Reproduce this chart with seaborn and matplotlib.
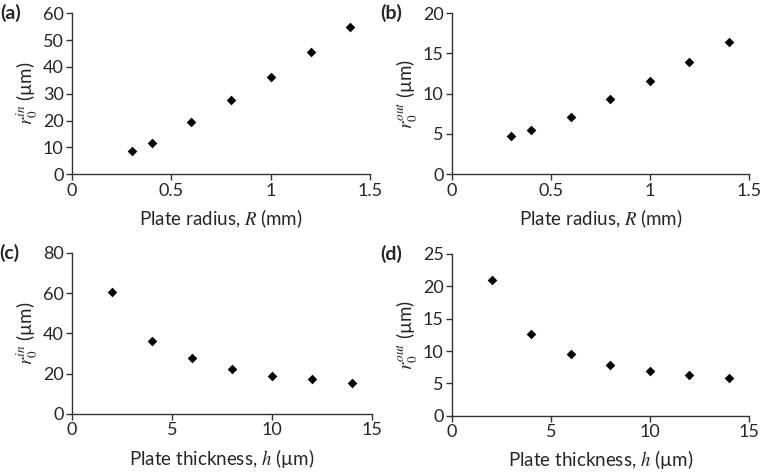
import matplotlib
matplotlib.use("Agg")
import matplotlib.pyplot as plt
import seaborn as sns
import pandas as pd

# Data
radius_mm = [0.3, 0.4, 0.6, 0.8, 1.0, 1.2, 1.4]
r_in_vs_radius = [8.6, 11.8, 19.6, 27.6, 36.4, 45.5, 55.0]
r_out_vs_radius = [4.8, 5.5, 7.1, 9.4, 11.6, 14.0, 16.4]

thickness_um = [2, 4, 6, 8, 10, 12, 14]
r_in_vs_thickness = [60.5, 36.5, 27.6, 22.3, 19.0, 17.2, 15.2]
r_out_vs_thickness = [20.9, 12.7, 9.6, 7.9, 6.9, 6.3, 5.8]

sns.set_style("ticks")
plt.rcParams['font.family'] = ['Lato', 'DejaVu Sans']
plt.rcParams['mathtext.fontset'] = 'stix'

fig = plt.figure(figsize=(7.61, 4.72), dpi=100)

panels = [
    # (tag, rect, x, y, xlim, xticks, ylim, yticks, ylabel, xlabel)
    ("(a)", [0.0946, 0.631, 0.392, 0.341], radius_mm, r_in_vs_radius,
     (0, 1.5), [0, 0.5, 1, 1.5], (0, 60), range(0, 61, 10),
     r"$r_0^{in}$ (µm)", r"Plate radius, $R$ (mm)"),
    ("(b)", [0.594, 0.631, 0.390, 0.341], radius_mm, r_out_vs_radius,
     (0, 1.5), [0, 0.5, 1, 1.5], (0, 20), range(0, 21, 5),
     r"$r_0^{out}$ (µm)", r"Plate radius, $R$ (mm)"),
    ("(c)", [0.0946, 0.123, 0.394, 0.341], thickness_um, r_in_vs_thickness,
     (0, 15), [0, 5, 10, 15], (0, 80), range(0, 81, 20),
     r"$r_0^{in}$ (µm)", r"Plate thickness, $h$ (µm)"),
    ("(d)", [0.594, 0.119, 0.390, 0.343], thickness_um, r_out_vs_thickness,
     (0, 15), [0, 5, 10, 15], (0, 25), range(0, 26, 5),
     r"$r_0^{out}$ (µm)", r"Plate thickness, $h$ (µm)"),
]

for tag, rect, xs, ys, xlim, xticks, ylim, yticks, ylab, xlab in panels:
    ax = fig.add_axes(rect)
    df = pd.DataFrame({"x": xs, "y": ys})
    sns.scatterplot(data=df, x="x", y="y", ax=ax, marker="D", s=24,
                    color="black", edgecolor="black", linewidth=0, clip_on=False)
    ax.set_xlim(*xlim)
    ax.set_ylim(*ylim)
    ax.set_xticks(xticks)
    ax.set_xticklabels([f"{t:g}" for t in xticks])
    ax.set_yticks(list(yticks))
    ax.tick_params(labelsize=13, length=4, width=1, color="#333333", pad=2)
    ax.set_xlabel(xlab, fontsize=13.5, labelpad=6)
    ax.set_ylabel(ylab, fontsize=13.5, labelpad=2)
    sns.despine(ax=ax)
    for s in ("left", "bottom"):
        ax.spines[s].set_color("#333333")
        ax.spines[s].set_linewidth(1)
    ax.text(-0.242, 1.0, tag, transform=ax.transAxes, fontsize=14,
            fontweight="bold", ha="left", va="center")

fig.savefig("out.png", dpi=100)
